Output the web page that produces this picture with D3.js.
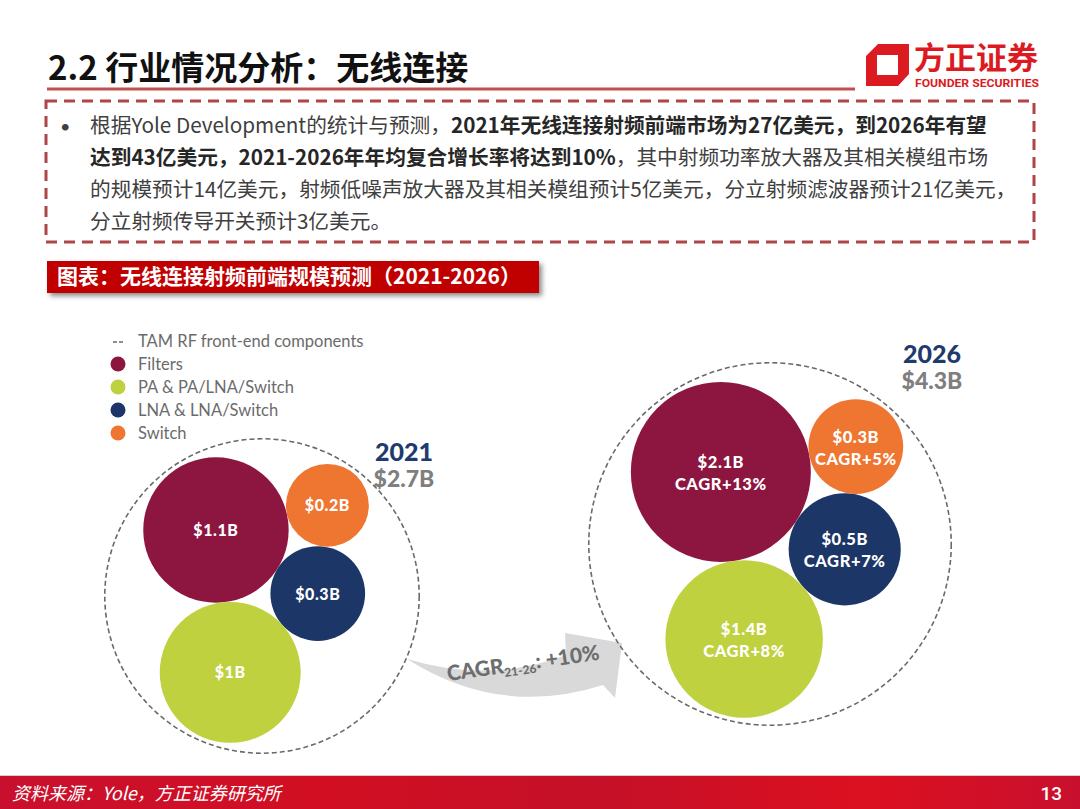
<!DOCTYPE html>
<html>
<head>
<meta charset="utf-8">
<script src="https://cdn.jsdelivr.net/npm/d3@7"></script>
<style>
  html, body { margin: 0; padding: 0; background: #fff; }
  svg { display: block; }
</style>
</head>
<body>
<svg id="chart" width="1080" height="809"></svg>
<script>
// 数据：无线连接射频前端规模（十亿美元）
const categories = ['Filters', 'PA & PA/LNA/Switch', 'LNA & LNA/Switch', 'Switch'];
const years = ['2021', '2026'];
const totals = [2.7, 4.3];
const values2021 = [1.1, 1.0, 0.3, 0.2];
const values2026 = [2.1, 1.4, 0.5, 0.3];
const cagr2026 = [13, 8, 7, 5];
const cagrTotal = 10;
const tamLabel = 'TAM RF front-end components';

// 样式
const palette = ['#8c1640', '#bfd13f', '#1c3668', '#ee7631'];
const color = d3.scaleOrdinal(categories, palette);
const cjk = '"Noto Sans CJK SC", "Noto Sans", sans-serif';
const latin = 'Lato, "Open Sans", sans-serif';

let svg = d3.select('#chart');
let defs = svg.append('defs');
defs.append('filter').attr('id', 'shadow')
    .attr('x', '-5%').attr('y', '-20%').attr('width', '115%').attr('height', '160%')
    .append('feDropShadow')
    .attr('dx', 3).attr('dy', 3).attr('stdDeviation', 2.5)
    .attr('flood-color', '#000').attr('flood-opacity', 0.45);
let footGrad = defs.append('linearGradient').attr('id', 'footGrad');
[['0%', '#c8102e'], ['30%', '#d20f22'], ['55%', '#c41028'], ['80%', '#dc1020'], ['100%', '#c8102e']]
    .forEach(s => footGrad.append('stop').attr('offset', s[0]).attr('stop-color', s[1]));

// ---------- 页眉 ----------
svg.append('text')
    .attr('x', 48).attr('y', 80)
    .attr('font-family', cjk).attr('font-weight', 700).attr('font-size', 33)
    .attr('fill', '#111')
    .text('2.2 行业情况分析：无线连接');
svg.append('line')
    .attr('x1', 47).attr('x2', 855).attr('y1', 89).attr('y2', 89)
    .attr('stroke', '#c0504d').attr('stroke-width', 3);

// 方正证券 logo
svg.append('path')
    .attr('d', 'M878,44 L909,44 L909,74 L898,86 L866,86 L866,56 Z M877,55 L898,55 L898,75 L877,75 Z')
    .attr('fill', '#dc1a22').attr('fill-rule', 'evenodd');
svg.append('text')
    .attr('x', 914).attr('y', 69)
    .attr('font-family', cjk).attr('font-weight', 700).attr('font-size', 31)
    .attr('fill', '#dc1a22')
    .attr('textLength', 124).attr('lengthAdjust', 'spacingAndGlyphs')
    .text('方正证券');
svg.append('text')
    .attr('x', 915).attr('y', 87)
    .attr('font-family', 'Roboto, sans-serif').attr('font-weight', 700).attr('font-size', 11)
    .attr('fill', '#dc1a22')
    .attr('textLength', 124).attr('lengthAdjust', 'spacingAndGlyphs')
    .text('FOUNDER SECURITIES');

// ---------- 文字框 ----------
svg.append('rect')
    .attr('x', 46).attr('y', 101).attr('width', 988).attr('height', 141)
    .attr('fill', 'none').attr('stroke', '#b04545').attr('stroke-width', 3)
    .attr('stroke-dasharray', '11,7');

const paraLines = [
    [['根据Yole Development的统计与预测，', 400], ['2021年无线连接射频前端市场为27亿美元，到2026年有望', 700]],
    [['达到43亿美元，2021-2026年年均复合增长率将达到10%', 700], ['，其中射频功率放大器及其相关模组市场', 400]],
    [['的规模预计14亿美元，射频低噪声放大器及其相关模组预计5亿美元，分立射频滤波器预计21亿美元，', 400]],
    [['分立射频传导开关预计3亿美元。', 400]]
];
svg.append('text')
    .attr('x', 60).attr('y', 133)
    .attr('font-family', latin).attr('font-size', 18).attr('fill', '#404040')
    .text('•');
paraLines.forEach((line, i) => {
    let t = svg.append('text')
        .attr('x', 90).attr('y', 133 + i * 32)
        .attr('font-family', cjk).attr('font-size', 20.7);
    line.forEach(seg => {
        t.append('tspan')
            .attr('font-weight', seg[1])
            .attr('fill', seg[1] === 700 ? '#262626' : '#404040')
            .text(seg[0]);
    });
});

// ---------- 图表标题 ----------
svg.append('rect')
    .attr('x', 47).attr('y', 261).attr('width', 492).attr('height', 32)
    .attr('fill', '#c00000').attr('filter', 'url(#shadow)');
svg.append('text')
    .attr('x', 57).attr('y', 284)
    .attr('font-family', cjk).attr('font-weight', 700).attr('font-size', 21)
    .attr('fill', '#fff')
    .text('图表：无线连接射频前端规模预测（2021-2026）');

// ---------- 图例 ----------
let legend = svg.append('g').attr('transform', 'translate(118,341)');
const legendRows = [tamLabel].concat(categories);
legend.selectAll('text')
    .data(legendRows)
    .enter()
    .append('text')
    .attr('x', 20)
    .attr('y', (d, i) => i * 23 + 6)
    .attr('font-family', latin).attr('font-size', 16.5).attr('fill', '#6b6b6b')
    .text(d => d);
legend.append('line')
    .attr('x1', -5).attr('x2', 5).attr('y1', 1).attr('y2', 1)
    .attr('stroke', '#6b6b6b').attr('stroke-width', 1.6).attr('stroke-dasharray', '4,2');
legend.selectAll('circle')
    .data(categories)
    .enter()
    .append('circle')
    .attr('cx', 0)
    .attr('cy', (d, i) => (i + 1) * 23)
    .attr('r', 7.5)
    .attr('fill', d => color(d));

// ---------- 增长箭头 ----------
svg.append('path')
    .attr('d', 'M407,659 Q490,684 566,655 L565,633 L622,643 L615,698 L603,685 Q500,718 407,659 Z')
    .attr('fill', '#d9d9d9');
let arrowText = svg.append('text')
    .attr('transform', 'translate(448,681) rotate(-8)')
    .attr('font-family', latin).attr('font-weight', 900).attr('fill', '#6e6e6e');
arrowText.append('tspan').attr('font-size', 21).text('CAGR');
arrowText.append('tspan').attr('font-size', 12).attr('dy', 4).text('21-26');
arrowText.append('tspan').attr('font-size', 21).attr('dy', -4).text(': +' + cagrTotal + '%');

// ---------- 气泡 ----------
// 半径比例尺：数值 -> 半径
let rScale = d3.scalePow().exponent(0.33)
    .domain([0, d3.max(values2026)])
    .range([0, 90]);
const packOrder = [0, 2, 1, 3];
const tilt = 32 * Math.PI / 180;
let fmt = v => '$' + d3.format('~g')(v) + 'B';

let drawYear = function (cx, cy, values, cagr) {
    let nodes = packOrder.map(i => ({key: categories[i], value: values[i], cagr: cagr ? cagr[i] : null, r: rScale(values[i])}));
    d3.packSiblings(nodes);
    let enc = d3.packEnclose(nodes);
    nodes.forEach(d => {
        let x = d.x - enc.x, y = d.y - enc.y;
        d.px = cx + x * Math.cos(tilt) - y * Math.sin(tilt);
        d.py = cy + x * Math.sin(tilt) + y * Math.cos(tilt);
    });
    let g = svg.append('g');
    g.append('circle')
        .attr('cx', cx).attr('cy', cy).attr('r', enc.r + 4)
        .attr('fill', 'none').attr('stroke', '#6a6a6a')
        .attr('stroke-width', 1.6).attr('stroke-dasharray', '5,3');
    g.selectAll('circle.bubble')
        .data(nodes)
        .enter()
        .append('circle')
        .attr('class', 'bubble')
        .attr('cx', d => d.px).attr('cy', d => d.py).attr('r', d => d.r)
        .attr('fill', d => color(d.key));
    let labels = g.selectAll('text.val')
        .data(nodes)
        .enter()
        .append('text')
        .attr('class', 'val')
        .attr('x', d => d.px)
        .attr('y', d => d.py + (cagr ? -4 : 6))
        .attr('text-anchor', 'middle')
        .attr('font-family', latin).attr('font-weight', 900)
        .attr('font-size', cagr ? 16.5 : 16).attr('letter-spacing', 0.6)
        .attr('fill', '#fff');
    labels.append('tspan').text(d => fmt(d.value));
    if (cagr) {
        labels.append('tspan')
            .attr('x', d => d.px).attr('dy', 22)
            .text(d => 'CAGR+' + d.cagr + '%');
    }
    return enc.r;
};

drawYear(262, 596, values2021, null);
drawYear(770, 544, values2026, cagr2026);

// 年份 / 总规模
const yearLabelPos = [[404, 461], [932, 363]];
years.forEach((y, i) => {
    let p = yearLabelPos[i];
    svg.append('text')
        .attr('x', p[0]).attr('y', p[1]).attr('text-anchor', 'middle')
        .attr('font-family', latin).attr('font-weight', 900).attr('font-size', 25)
        .attr('fill', '#1f3a6e').text(y);
    svg.append('text')
        .attr('x', p[0]).attr('y', p[1] + 26).attr('text-anchor', 'middle')
        .attr('font-family', latin).attr('font-weight', 900).attr('font-size', 23)
        .attr('fill', '#7f7f7f').text(fmt(totals[i]));
});

// ---------- 页脚 ----------
svg.append('line')
    .attr('x1', 0).attr('x2', 1080).attr('y1', 775.5).attr('y2', 775.5)
    .attr('stroke', '#d0d0d0').attr('stroke-width', 1);
svg.append('rect')
    .attr('x', 0).attr('y', 776).attr('width', 1080).attr('height', 33)
    .attr('fill', 'url(#footGrad)');
svg.append('text')
    .attr('x', 12).attr('y', 800)
    .attr('font-family', cjk).attr('font-size', 18).attr('font-style', 'italic')
    .attr('fill', '#fff')
    .text('资料来源：Yole，方正证券研究所');
svg.append('text')
    .attr('x', 1062).attr('y', 800).attr('text-anchor', 'end')
    .attr('font-family', 'Roboto, sans-serif').attr('font-weight', 500).attr('font-size', 19)
    .attr('fill', '#fff')
    .text('13');
</script>
</body>
</html>
